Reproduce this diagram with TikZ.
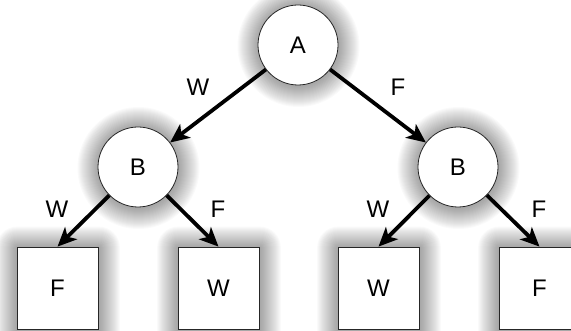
\documentclass[tikz,border=0pt]{standalone}
\usepackage{fontspec}
\setmainfont{Liberation Sans}
\usetikzlibrary{arrows.meta,backgrounds}
\begin{document}
\begin{tikzpicture}[x=1pt,y=-1pt,
  every node/.style={font=\fontsize{24}{28}\selectfont},
  state/.style={circle,draw=black!85,line width=0.8pt,fill=white,minimum size=80pt,inner sep=0pt},
  leaf/.style={rectangle,draw=black!85,line width=0.8pt,fill=white,minimum width=81pt,minimum height=82pt,inner sep=0pt},
  edge/.style={line width=3.8pt,black,-{Stealth[length=19pt,width=17pt,inset=5pt]}},
  glowfill/.style={fill=black,fill opacity=0.02},
  lbl/.style={inner sep=0pt}]
\useasboundingbox (0,0) rectangle (571,331);
\clip (0,0) rectangle (571,331);
\node[state] (A) at (298,45) {A};
\node[state] (B1) at (138,167) {B};
\node[state] (B2) at (458,167) {B};
\node[leaf] (L1) at (57.5,288) {F};
\node[leaf] (L2) at (218.5,288) {W};
\node[leaf] (L3) at (378.5,288) {W};
\node[leaf] (L4) at (539.5,288) {F};
\begin{scope}[on background layer]
  \foreach \k in {1,...,21}{
    \foreach \n in {A,B1,B2}{
      \fill[glowfill] ([shift={(0.5pt,-1pt)}]\n.center) circle[radius=40+\k];
    }
    \foreach \n in {L1,L2,L3,L4}{
      \fill[glowfill,rounded corners=\k pt]
        ([shift={(-\k pt+0.5pt,\k pt-1pt)}]\n.north west) rectangle
        ([shift={(\k pt+0.5pt,-\k pt-1pt)}]\n.south east);
    }
  }
\end{scope}
\draw[edge] (A) -- (B1);
\draw[edge] (A) -- (B2);
\draw[edge] (B1) -- (L1.north);
\draw[edge] (B1) -- (L2.north);
\draw[edge] (B2) -- (L3.north);
\draw[edge] (B2) -- (L4.north);
\node[lbl] (wa) at (198,87) {W};
\node[lbl] (fa) at (398,87) {F};
\node[lbl] (w1) at (57,209) {W};
\node[lbl] (f1) at (218,209) {F};
\node[lbl] (w2) at (378,209) {W};
\node[lbl] (f2) at (539,209) {F};
\end{tikzpicture}
\end{document}
